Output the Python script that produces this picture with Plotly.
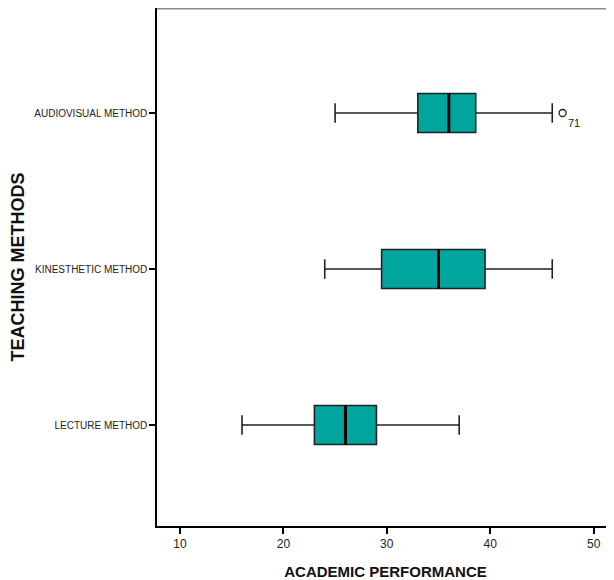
import plotly.graph_objects as go

methods = ["LECTURE METHOD", "KINESTHETIC METHOD", "AUDIOVISUAL METHOD"]
positions = [0, 1, 2]
lower_whisker = [16, 24, 25]
q1_vals = [23, 29.5, 33]
median_vals = [26, 35, 36]
q3_vals = [29, 39.5, 38.6]
upper_whisker = [37, 46, 46]
outlier_x = [47]
outlier_pos = [2]
outlier_labels = ["71"]
x_ticks = [10, 20, 30, 40, 50]

fill = "#00A59E"
BOX_W = 0.25

fig = go.Figure()
fig.add_trace(go.Box(
    y=positions, q1=q1_vals, median=median_vals, q3=q3_vals,
    lowerfence=lower_whisker, upperfence=upper_whisker,
    orientation="h", width=BOX_W, whiskerwidth=0.5,
    fillcolor=fill, line=dict(color="#222222", width=1.6),
    boxpoints=False, showlegend=False, hoverinfo="skip",
))
# thick median lines
for m, p in zip(median_vals, positions):
    fig.add_trace(go.Scatter(
        x=[m, m], y=[p - BOX_W / 2, p + BOX_W / 2], mode="lines",
        line=dict(color="black", width=3), showlegend=False, hoverinfo="skip",
    ))
fig.add_trace(go.Scatter(
    x=outlier_x, y=outlier_pos, mode="markers+text", text=outlier_labels,
    textposition="bottom right", textfont=dict(family="Liberation Sans, Arial", size=11, color="#222"),
    marker=dict(symbol="circle-open", size=7, color="#222", line=dict(width=1.3)),
    showlegend=False, hoverinfo="skip",
))

fig.update_layout(
    width=606, height=572,
    margin=dict(l=149, r=0, t=0, b=54),
    plot_bgcolor="white", paper_bgcolor="white",
    font=dict(family="Liberation Sans, Arial", color="#222"),
    xaxis=dict(
        range=[7.78, 51.97], tickvals=x_ticks, showgrid=False, zeroline=False,
        showline=True, linecolor="black", linewidth=1.5,
        ticks="outside", ticklen=6, tickwidth=1.5, tickcolor="black",
        tickfont=dict(size=12, family="Liberation Sans, Arial", color="#222"),
        title=dict(text="<b>ACADEMIC PERFORMANCE</b>", standoff=18,
                   font=dict(size=15, family="Liberation Sans, Arial", color="#111")),
    ),
    yaxis=dict(
        range=[-0.647, 2.673], tickvals=positions, ticktext=methods,
        showgrid=False, zeroline=False,
        showline=True, linecolor="black", linewidth=1.5,
        ticks="outside", ticklen=6, tickwidth=1.5, tickcolor="black",
        tickfont=dict(size=10, family="Liberation Sans, Arial", color="#222"),
        title=dict(text="<b>TEACHING METHODS</b>", standoff=8,
                   font=dict(size=18, family="Liberation Sans, Arial", color="#111")),
    ),
    shapes=[dict(type="line", xref="paper", yref="paper", x0=0, x1=1, y0=1, y1=1,
                 line=dict(color="#888888", width=3))],
)

fig.write_html("out.html")
